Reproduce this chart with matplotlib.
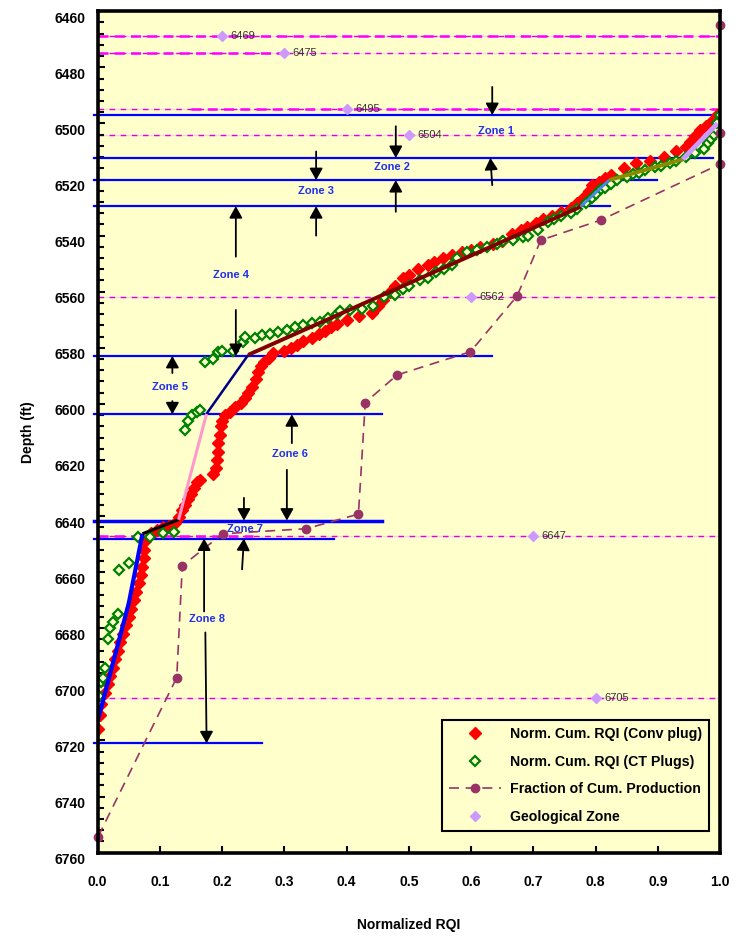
import matplotlib
matplotlib.use("Agg")
import matplotlib.pyplot as plt
import matplotlib.transforms as mtransforms
from matplotlib.ticker import MultipleLocator

plt.rcParams['font.family'] = ['Liberation Sans', 'DejaVu Sans']

# Norm. Cum. RQI (Conv plug)
conv_x = [0.0, 0.003, 0.006, 0.012, 0.016, 0.02, 0.024, 0.028, 0.032, 0.036, 0.04, 0.046,
          0.05, 0.054, 0.058, 0.062, 0.066, 0.069, 0.072, 0.074, 0.075, 0.076, 0.085, 0.095,
          0.105, 0.115, 0.125, 0.13, 0.136, 0.14, 0.145, 0.15, 0.155, 0.16, 0.165, 0.185,
          0.19, 0.192, 0.193, 0.194, 0.196, 0.198, 0.2, 0.205, 0.212, 0.22, 0.23, 0.236,
          0.242, 0.248, 0.254, 0.258, 0.262, 0.268, 0.275, 0.282, 0.3, 0.31, 0.32, 0.33,
          0.345, 0.355, 0.365, 0.375, 0.385, 0.4, 0.42, 0.44, 0.45, 0.458, 0.47, 0.478,
          0.49, 0.5, 0.515, 0.53, 0.54, 0.555, 0.57, 0.585, 0.6, 0.615, 0.635, 0.65, 0.665,
          0.68, 0.69, 0.705, 0.715, 0.73, 0.745, 0.76, 0.77, 0.78, 0.79, 0.795, 0.805, 0.815,
          0.825, 0.845, 0.865, 0.888, 0.91, 0.93, 0.945, 0.952, 0.96, 0.968, 0.978, 0.985,
          0.995]
conv_depth = [6716, 6711, 6707, 6703, 6700, 6697, 6694, 6691, 6688, 6685, 6682, 6679,
              6676, 6673, 6670, 6667, 6664, 6661, 6658, 6655, 6652, 6649, 6646, 6645,
              6644, 6643.5, 6642.5, 6640.5, 6638, 6636, 6634, 6632, 6630, 6628, 6627, 6625,
              6623, 6620, 6617, 6614, 6611, 6608, 6606, 6604, 6603, 6601, 6599.5, 6598,
              6596, 6594, 6591, 6588.5, 6586.5, 6585, 6583.5, 6582, 6581, 6580, 6579, 6577.5,
              6576.5, 6575, 6574, 6572.5, 6571.5, 6570, 6568.5, 6567.5, 6565, 6563, 6560, 6558,
              6555, 6554, 6552, 6550.5, 6549.5, 6548, 6547, 6546, 6545, 6544, 6543, 6542, 6539.5,
              6538, 6537, 6535.5, 6534, 6533, 6531.5, 6530, 6528.5, 6526.5, 6524, 6522, 6521, 6519.5,
              6518.5, 6516, 6514, 6513.5, 6512, 6510, 6508.5, 6506.5, 6504.5, 6502.5, 6501, 6499.5,
              6497]

# Norm. Cum. RQI (CT Plugs)
ct_x = [0.0, 0.002, 0.006, 0.009, 0.011, 0.016, 0.019, 0.025, 0.032, 0.035, 0.05, 0.065,
        0.084, 0.105, 0.122, 0.14, 0.145, 0.151, 0.159, 0.164, 0.172, 0.185, 0.193, 0.2,
        0.217, 0.233, 0.237, 0.253, 0.264, 0.277, 0.29, 0.304, 0.317, 0.33, 0.345, 0.357,
        0.37, 0.385, 0.39, 0.405, 0.425, 0.443, 0.46, 0.478, 0.49, 0.5, 0.518, 0.53, 0.543,
        0.556, 0.57, 0.578, 0.594, 0.61, 0.626, 0.642, 0.652, 0.668, 0.683, 0.692, 0.707,
        0.723, 0.733, 0.744, 0.76, 0.77, 0.785, 0.795, 0.8, 0.808, 0.815, 0.825, 0.835,
        0.85, 0.86, 0.87, 0.88, 0.895, 0.905, 0.92, 0.93, 0.945, 0.96, 0.975, 0.98, 0.985,
        0.99, 0.993, 0.995, 1.0]
ct_depth = [6706.6, 6704.3, 6699, 6697.7, 6694, 6683.8, 6680, 6677.9, 6675, 6659.4, 6656.8, 6647.3,
            6647.3, 6646, 6645.5, 6609.3, 6606, 6604, 6603, 6602, 6585, 6584, 6581.5, 6581,
            6581, 6578, 6576, 6576.5, 6575.5, 6575, 6574.4, 6573.6, 6572.6, 6572, 6571, 6570.8,
            6569.4, 6568, 6567, 6566.5, 6566, 6565, 6562, 6561, 6559, 6558, 6556, 6555, 6553,
            6552, 6550.5, 6548, 6546, 6545, 6544, 6543, 6542, 6541.5, 6540.5, 6540, 6538,
            6535, 6534, 6533, 6532, 6530.5, 6528.5, 6526.5, 6525, 6523.5, 6523, 6521.5, 6520,
            6519, 6518, 6517.5, 6516.5, 6515.5, 6515, 6514, 6513.5, 6512, 6510.5, 6509, 6507, 6505.5,
            6504, 6502, 6500, 6497]

# Fraction of Cum. Production
prod_x = [1.0, 1.0, 1.0, 0.808, 0.712, 0.674, 0.599, 0.481, 0.43, 0.419, 0.335, 0.201,
          0.136, 0.127, 0.0]
prod_depth = [6465, 6503.4, 6514.5, 6534.5, 6541.6, 6561.5, 6581.4, 6589.7, 6599.5, 6639.3,
              6644.5, 6646.3, 6657.7, 6697.6, 6754.6]

# Geological Zone tops
geo_x = [0.2, 0.3, 0.4, 0.5, 0.6, 0.7, 0.8]
geo_depth = [6469, 6475, 6495, 6504, 6562, 6647, 6705]

# zone boundaries (depth, right end)
boundary_depth = [6497, 6512.3, 6520.2, 6529.5, 6582.9, 6603.7, 6641.6, 6648, 6721]
boundary_xmax = [1.0, 0.988, 0.898, 0.823, 0.634, 0.457, 0.457, 0.379, 0.264]

zone_names = ['Zone 1', 'Zone 2', 'Zone 3', 'Zone 4', 'Zone 5', 'Zone 6', 'Zone 7', 'Zone 8']
zone_label_x = [0.64, 0.473, 0.351, 0.215, 0.116, 0.309, 0.237, 0.176]
zone_label_depth = [6502.7, 6515.4, 6524, 6554, 6594, 6618, 6644.5, 6676.6]

# arrows: (tail x, tail depth, tip x, tip depth)
arrows = [(0.634, 6487, 0.634, 6497), (0.634, 6522, 0.631, 6512.3),
          (0.479, 6501, 0.479, 6512.3), (0.479, 6531.5, 0.479, 6520.2),
          (0.351, 6510, 0.351, 6520.2), (0.351, 6540, 0.351, 6529.5),
          (0.222, 6547.5, 0.222, 6529.5), (0.222, 6566.5, 0.222, 6582.9),
          (0.12, 6589, 0.12, 6582.9), (0.12, 6599, 0.12, 6603.7),
          (0.312, 6614, 0.312, 6603.7), (0.304, 6623.5, 0.304, 6641.6),
          (0.235, 6633.5, 0.235, 6641.6), (0.232, 6659, 0.235, 6648),
          (0.171, 6674, 0.171, 6648), (0.173, 6681.5, 0.175, 6721)]

# trend segments
fit_x = [[0.0, 0.05, 0.072], [0.072, 0.13], [0.13, 0.175], [0.175, 0.242],
         [0.242, 0.776], [0.776, 0.822], [0.822, 0.94], [0.94, 0.996]]
fit_depth = [[6713, 6671, 6646.3], [6646.3, 6641.3], [6641.3, 6603.5], [6603.5, 6582.5],
             [6582.5, 6529.7], [6529.7, 6520.2], [6520.2, 6512.8], [6512.8, 6500]]
fit_colors = ['#0000FF', 'black', '#FF99CC', '#000080', '#800000', '#4A86E8', '#8B8B00', '#CC99FF']
fit_widths = [3, 2.2, 2.2, 1.8, 2.8, 2, 2.8, 3.5]

fig = plt.figure(figsize=(7.4, 9.38), dpi=100)
ax = fig.add_axes([0.132, 0.091, 0.841, 0.897])
ax.set_facecolor('#FFFFCC')

# geological lines
for d in geo_depth:
    ax.axhline(d, color='#F7D3E3', lw=1, zorder=1)
    ax.axhline(d, color='#E000E0', lw=1, ls=(0, (4, 4)), zorder=1)
ax.plot([0, 1], [6469, 6469], color='#FF00FF', lw=1.8, ls=(0, (4, 2.5)), zorder=1)
ax.plot([0, 0.3], [6475, 6475], color='#FF00FF', lw=1.8, ls=(0, (4, 2.5)), zorder=1)
ax.plot([0.15, 1], [6495, 6495], color='#FF00FF', lw=1.8, ls=(0, (4, 2.5)), zorder=1)
ax.plot([0, 0.25], [6647, 6647], color='#FF00FF', lw=1.8, ls=(0, (4, 2.5)), zorder=1)

# zone boundaries
for d, xm in zip(boundary_depth, boundary_xmax):
    w = 2.5 if d == 6641.6 else 1.6
    ax.plot([-0.006, xm], [d, d], color='#0000FF', lw=w, zorder=2, clip_on=False)

ax.plot(conv_x, conv_depth, ls='none', marker='D', ms=6.5, color='#FF0000', mec='#FF0000',
        zorder=3, label='Norm. Cum. RQI (Conv plug)')
ax.plot(ct_x, ct_depth, ls='none', marker='D', ms=5.2, mfc='#FFFFCC', mec='#008000', mew=1.6,
        zorder=3, label='Norm. Cum. RQI (CT Plugs)')

for xs, ds, c, w in zip(fit_x, fit_depth, fit_colors, fit_widths):
    ax.plot(xs, ds, color=c, lw=w, zorder=4, solid_capstyle='butt')

ax.plot(prod_x, prod_depth, color='#993366', lw=1.2, ls=(0, (6, 4)), marker='o', ms=6,
        zorder=5, label='Fraction of Cum. Production', clip_on=False)
ax.plot(geo_x, geo_depth, ls='none', marker='D', ms=5, color='#CC99FF', zorder=5,
        label='Geological Zone')
for gx, gd in zip(geo_x, geo_depth):
    ax.annotate(str(gd), (gx, gd), xytext=(6, 0), textcoords='offset points',
                va='center', ha='left', fontsize=8, color='#333333', zorder=6)

for name, zx, zd in zip(zone_names, zone_label_x, zone_label_depth):
    ax.text(zx, zd, name, color='#1F2FEF', fontsize=8, fontweight='bold',
            ha='center', va='center', zorder=6)

for tx, td, hx, hd in arrows:
    ax.annotate('', xy=(hx, hd), xytext=(tx, td),
                arrowprops=dict(arrowstyle='-|>,head_length=0.5,head_width=0.28',
                                color='black', lw=1.3, mutation_scale=14,
                                shrinkA=0, shrinkB=0), zorder=6)

ax.set_xlim(0, 1)
ax.set_ylim(6760, 6460)
ax.xaxis.set_major_locator(MultipleLocator(0.1))
ax.yaxis.set_major_locator(MultipleLocator(20))
ax.yaxis.set_minor_locator(MultipleLocator(4))
ax.xaxis.set_major_formatter(plt.FuncFormatter(lambda v, p: f'{v:.1f}'))
ax.tick_params(axis='both', which='both', direction='in', width=1.5, labelsize=10)
ax.tick_params(axis='y', which='major', length=5, pad=9)
ax.tick_params(axis='y', which='minor', length=4)
ax.tick_params(axis='x', which='major', length=5, pad=16)
for lab in ax.get_xticklabels() + ax.get_yticklabels():
    lab.set_fontweight('bold')
shift = mtransforms.ScaledTranslation(0, -0.06, fig.dpi_scale_trans)
for lab in ax.get_yticklabels():
    lab.set_transform(lab.get_transform() + shift)

for sp in ax.spines.values():
    sp.set_linewidth(2.6)
    sp.set_zorder(7)

ax.set_xlabel('Normalized RQI', fontsize=10, fontweight='bold')
ax.set_ylabel('Depth (ft)', fontsize=10, fontweight='bold')
ax.xaxis.set_label_coords(0.5, -0.078)
ax.yaxis.set_label_coords(-0.1, 0.5)

leg = ax.legend(loc='lower right', bbox_to_anchor=(0.982, 0.026), borderaxespad=0,
                prop={'weight': 'bold', 'size': 10.2}, fancybox=False, framealpha=1,
                facecolor='#FFFFCC', edgecolor='black', handlelength=3.7,
                handletextpad=0.6, labelspacing=0.95, borderpad=0.5)
leg.get_frame().set_linewidth(1.5)
leg.set_zorder(8)

fig.savefig('out.png', dpi=100)
